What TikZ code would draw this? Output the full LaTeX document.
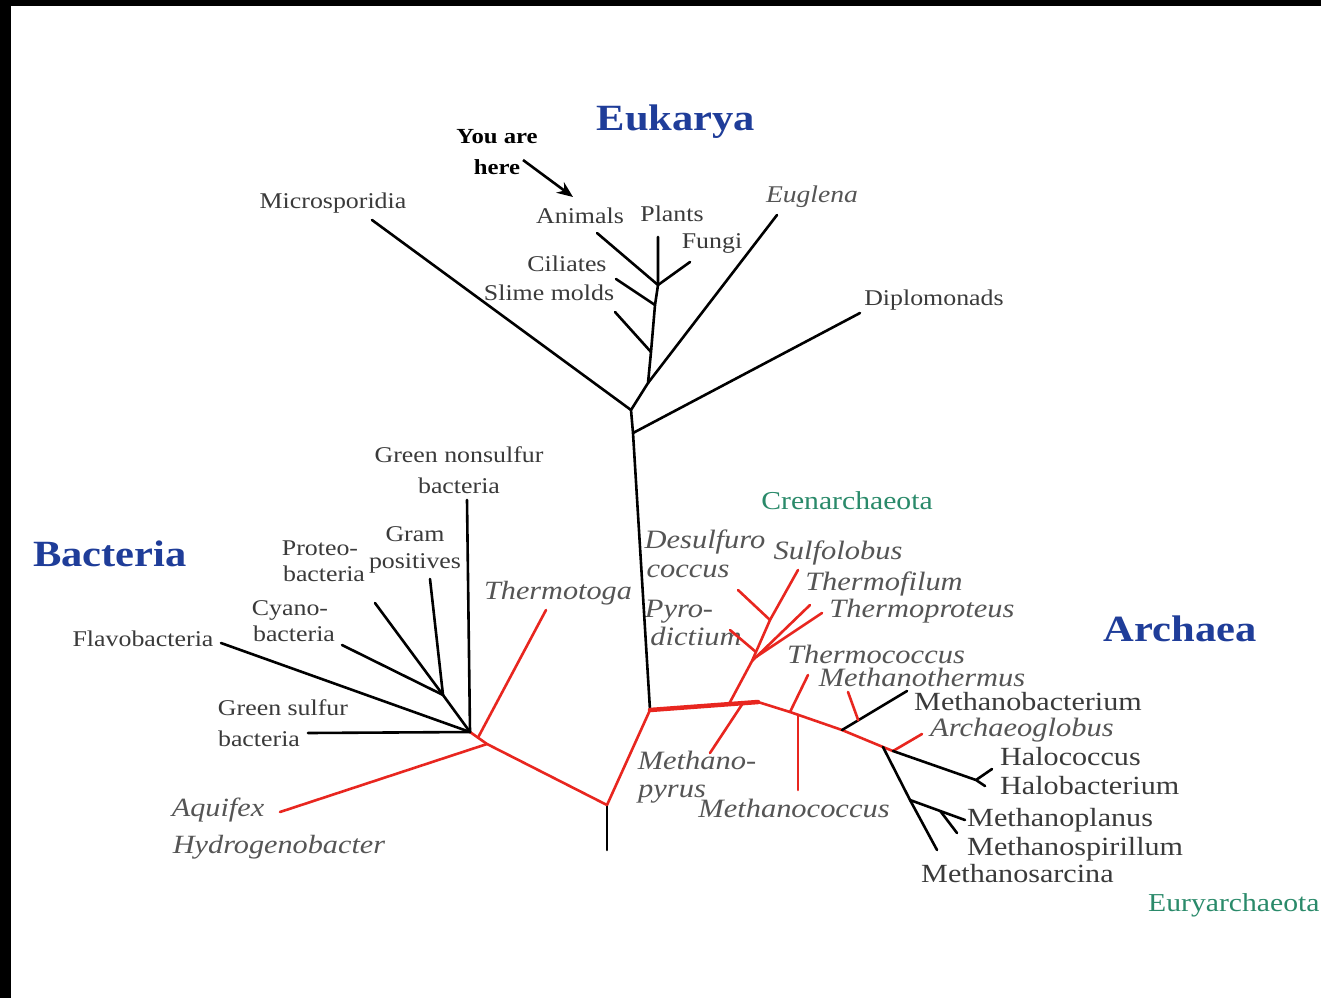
\documentclass[tikz,border=0pt]{standalone}
\usepackage{fontspec}
\setmainfont[FakeStretch=1.15]{Liberation Serif}
\usetikzlibrary{arrows.meta,calc}
\definecolor{tblue}{HTML}{1F3D99}
\definecolor{tgreen}{HTML}{2A8A6A}
\definecolor{tred}{HTML}{E8261F}
\definecolor{tgray}{HTML}{3A3A3A}
\definecolor{igray}{HTML}{555555}
\begin{document}
\begin{tikzpicture}[x=1pt,y=-1pt,
  br/.style={line width=2.6pt, black, line cap=round, line join=round},
  rd/.style={line width=2.6pt, tred, line cap=round, line join=round},
  lab/.style={text=tgray, inner sep=0pt, yshift=-6pt, font=\fontsize{22.5}{27}\selectfont, text height=0.72em, text depth=0.22em},
  ilab/.style={lab, text=igray, font=\fontsize{26.3}{30}\selectfont\itshape},
  alab/.style={lab, font=\fontsize{26.2}{30}\selectfont},
  ialab/.style={lab, text=igray, font=\fontsize{26.5}{30}\selectfont\itshape},
  glab/.style={lab, text=tgreen, font=\fontsize{25.8}{30}\selectfont},
  ttl/.style={text=tblue, inner sep=0pt, yshift=-8pt, font=\fontsize{37}{44}\selectfont\bfseries, text height=0.72em, text depth=0.22em},
  here/.style={text=black, inner sep=0pt, yshift=-5pt, font=\fontsize{21.5}{26}\selectfont\bfseries, text height=0.72em, text depth=0.22em}]
\useasboundingbox (0,0) rectangle (1321,998);
\fill[white] (0,0) rectangle (1321,998);
\fill[black] (0,0) rectangle (1321,6);
\fill[black] (0,0) rectangle (11,998);

% ---------- titles ----------
\node[ttl] (teuk) at (676,120) {Eukarya};
\node[ttl] (tbac) at (110,556) {Bacteria};
\node[ttl] (tarc) at (1180,631) {Archaea};
\node[glab] (tcren) at (847,501) {Crenarchaeota};
\node[glab, anchor=west] (teury) at (1148,903) {Euryarchaeota};

% ---------- Eukarya labels ----------
\node[here] (you) at (497,136) {You are};
\node[here] (herel) at (497,167) {here};
\node[lab] (lmicro) at (333,200) {Microsporidia};
\node[lab] (lanim) at (580,215) {Animals};
\node[lab] (lplant) at (672,213) {Plants};
\node[lab] (lfungi) at (712,240) {Fungi};
\node[ilab, font=\fontsize{24}{28}\selectfont\itshape] (leugl) at (812,194) {Euglena};
\node[lab] (lcili) at (567,263) {Ciliates};
\node[lab] (lslime) at (549,292) {Slime molds};
\node[lab] (ldiplo) at (934,297) {Diplomonads};

% ---------- Bacteria labels ----------
\node[lab] (lgns1) at (459,454) {Green nonsulfur};
\node[lab] (lgns2) at (459,485) {bacteria};
\node[lab] (lgram1) at (415,533) {Gram};
\node[lab] (lgram2) at (415,560) {positives};
\node[lab] (lprot1) at (320,547) {Proteo-};
\node[lab] (lprot2) at (324,573) {bacteria};
\node[lab] (lcyan1) at (290,607) {Cyano-};
\node[lab] (lcyan2) at (294,633) {bacteria};
\node[lab] (lflavo) at (143,638) {Flavobacteria};
\node[lab] (lgs1) at (283,707) {Green sulfur};
\node[lab] (lgs2) at (259,738) {bacteria};
\node[ilab] (lthtoga) at (558,591) {Thermotoga};
\node[ilab] (laqui) at (218,808) {Aquifex};
\node[ilab] (lhydro) at (279,845) {Hydrogenobacter};

% ---------- Archaea labels ----------
\node[ialab] (ldes1) at (705,540) {Desulfuro};
\node[ialab] (ldes2) at (688,569) {coccus};
\node[ialab] (lsulf) at (838,551) {Sulfolobus};
\node[ialab] (ltfil) at (884,582) {Thermofilum};
\node[ialab] (ltpro) at (922,609) {Thermoproteus};
\node[ialab] (lpyr1) at (679,609) {Pyro-};
\node[ialab] (lpyr2) at (696,637) {dictium};
\node[ialab] (ltcoc) at (876,655) {Thermococcus};
\node[ialab] (lmthe) at (922,678) {Methanothermus};
\node[alab, anchor=west] (lmbac) at (914,702) {Methanobacterium};
\node[ialab, anchor=west] (larch) at (930,728) {Archaeoglobus};
\node[alab, anchor=west] (lhcoc) at (1000,757) {Halococcus};
\node[alab, anchor=west] (lhbac) at (1000,786) {Halobacterium};
\node[alab, anchor=west] (lmpla) at (967,818) {Methanoplanus};
\node[alab, anchor=west] (lmspi) at (967,847) {Methanospirillum};
\node[alab, anchor=west] (lmsar) at (921,874) {Methanosarcina};
\node[ialab] (lmpy1) at (697,761) {Methano-};
\node[ialab] (lmpy2) at (672,789) {pyrus};
\node[ialab] (lmcoc) at (794,809) {Methanococcus};

% ---------- coordinates ----------
% Eukarya
\coordinate (eroot) at (631,410);
\coordinate (edip) at (633,433);
\coordinate (e1) at (648,383);
\coordinate (e2) at (651,352);
\coordinate (e3) at (655,305);
\coordinate (e4) at (658,285);
\coordinate (xmicro) at (372,220);
\coordinate (xanim) at (597,233);
\coordinate (xplant) at (658,237);
\coordinate (xfungi) at (690,262);
\coordinate (xcili) at (616,279);
\coordinate (xslime) at (615,312);
\coordinate (xeugl) at (777,215);
\coordinate (xdiplo) at (860,313);
\coordinate (arrs) at (523,160);
\coordinate (arre) at (573,197);
% central
\coordinate (a0) at (650,710);
\coordinate (root) at (607,805);
\coordinate (rootend) at (607,850);
% Bacteria
\coordinate (bj1) at (470,732);
\coordinate (bj2) at (487,744);
\coordinate (bsub) at (443,695);
\coordinate (xthtoga) at (546,610);
\coordinate (xaqui) at (280,812);
\coordinate (xgns) at (467,500);
\coordinate (xgs) at (308,733);
\coordinate (xflavo) at (221,643);
\coordinate (xgram) at (430,579);
\coordinate (xprot) at (375,603);
\coordinate (xcyan) at (342,645);
% Archaea
\coordinate (a1) at (758,702);
\coordinate (ac0) at (729,704);
\coordinate (ac1) at (752,661);
\coordinate (ac2) at (770,620);
\coordinate (xsulf) at (798,570);
\coordinate (xdes) at (738,590);
\coordinate (xpyr) at (730,630);
\coordinate (xtfil) at (810,605);
\coordinate (xtpro) at (822,613);
\coordinate (ampy) at (743,703);
\coordinate (xmpy) at (710,753);
\coordinate (a2) at (790,712);
\coordinate (a3) at (842,730);
\coordinate (a4) at (883,747);
\coordinate (a5) at (893,751);
\coordinate (xtcoc) at (808,675);
\coordinate (amcoc) at (798,715);
\coordinate (xmcoc) at (798,790);
\coordinate (xmbac) at (907,691);
\coordinate (xmthe) at (848,692);
\coordinate (xarch) at (922,734);
\coordinate (hj) at (976,780);
\coordinate (xhbac) at (985,786);
\coordinate (xhcoc) at (992,769);
\coordinate (xmsar) at (937,850);
\coordinate (mj1) at (910,800);
\coordinate (xmpla) at (965,820);
\coordinate (xmspi) at (957,833);

% ---------- Eukarya tree ----------
\draw[br] (xmicro) -- (eroot);
\draw[br] (xdiplo) -- (edip);
\draw[br] (a0) -- (edip) -- (eroot) -- (e1) -- (e2) -- (e3) -- (e4) -- (xplant);
\draw[br] (xanim) -- (e4);
\draw[br] (xfungi) -- (e4);
\draw[br] (xcili) -- (e3);
\draw[br] (xslime) -- (e2);
\draw[br] (xeugl) -- (e1);
\draw[line width=2.6pt, -{Stealth[length=16pt,width=13pt]}] (arrs) -- (arre);

% ---------- root ----------
\draw[rd] (a0) -- (root);
\draw[br] (root) -- (rootend);

% ---------- Bacteria ----------
\draw[rd] (root) -- (bj2) -- (bj1);
\draw[rd] (bj2) -- (xaqui);
\draw[rd] ($(bj1)!0.47!(bj2)$) -- (xthtoga);
\draw[br] (bj1) -- (xgns);
\draw[br] (bj1) -- (xgs);
\draw[br] (bj1) -- (xflavo);
\draw[br] (bj1) -- (bsub);
\draw[br] (bsub) -- (xgram);
\draw[br] (bsub) -- (xprot);
\draw[br] (bsub) -- (xcyan);

% ---------- Archaea ----------
\draw[tred, line width=4.5pt, line cap=round] (a0) -- (a1);
\draw[rd] (ac0) -- (ac1) -- (ac2) -- (xsulf);
\draw[rd] (ac2) -- (xdes);
\draw[rd] ($(ac1)!0.22!(ac2)$) -- (xpyr);
\draw[rd] (ac1) -- (xtfil);
\draw[rd] ($(ac1)!0.08!(xtfil)$) -- (xtpro);
\draw[rd] (ampy) -- (xmpy);
\draw[rd] (a1) -- (a2) -- (a3) -- (a4) -- (a5);
\draw[rd] (a2) -- (xtcoc);
\draw[rd] (amcoc) -- (xmcoc);
\draw[br] (a3) -- (xmbac);
\draw[rd] (xmthe) -- ($(a3)!0.25!(xmbac)$);
\draw[rd] (a5) -- (xarch);
\draw[br] (a5) -- (hj) -- (xhbac);
\draw[br] (hj) -- (xhcoc);
\draw[br] (a4) -- (mj1) -- (xmsar);
\draw[br] (mj1) -- (xmpla);
\draw[br] ($(mj1)!0.55!(xmpla)$) -- (xmspi);
\end{tikzpicture}
\end{document}
